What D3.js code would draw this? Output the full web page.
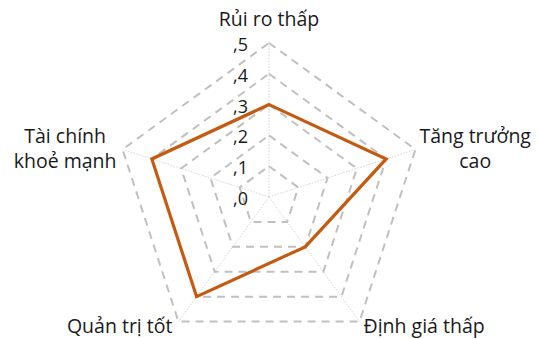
<!DOCTYPE html>
<html>
<head>
<meta charset="utf-8">
<script src="https://cdn.jsdelivr.net/npm/d3@7"></script>
<style>
  body { margin: 0; background: #fff; }
  text { font-family: "Open Sans", "Noto Sans", sans-serif; fill: #1a1a1a; }
</style>
</head>
<body>
<script>
const w = 540
const h = 339
const cx = 269
const cy = 197
const R = 154

const categories = [
  ['Rủi ro thấp'],
  ['Tăng trưởng', 'cao'],
  ['Định giá thấp'],
  ['Quản trị tốt'],
  ['Tài chính', 'khoẻ mạnh']
]
const values = [3, 4, 2, 4, 4]
const levels = [1, 2, 3, 4, 5]
const tickLabels = [',0', ',1', ',2', ',3', ',4', ',5']

const svg = d3.select('body')
              .append('svg')
              .attr('width', w)
              .attr('height', h)

const rScale = d3.scaleLinear()
                 .domain([0, 5])
                 .range([0, R])

const angle = d3.scalePoint()
                .domain(d3.range(categories.length + 1))
                .range([0, 2 * Math.PI])

const pt = (i, v) => {
  const a = angle(i)
  return [cx + rScale(v) * Math.sin(a), cy - rScale(v) * Math.cos(a)]
}

// spokes
svg.selectAll('line.spoke')
  .data(categories)
  .enter()
  .append('line')
  .attr('class', 'spoke')
  .attr('x1', cx)
  .attr('y1', cy)
  .attr('x2', (d, i) => pt(i, 5)[0])
  .attr('y2', (d, i) => pt(i, 5)[1])
  .attr('stroke', '#d4d4d4')
  .attr('stroke-width', 1)
  .attr('stroke-dasharray', '1.5,1.5')

// rings
svg.selectAll('path.ring')
  .data(levels)
  .enter()
  .append('path')
  .attr('class', 'ring')
  .attr('d', lv => d3.line()(categories.map((c, i) => pt(i, lv))) + 'Z')
  .attr('fill', 'none')
  .attr('stroke', '#c0c0c0')
  .attr('stroke-width', 2)
  .attr('stroke-dasharray', '8,6')

// data line
svg.append('path')
  .datum(values)
  .attr('d', d => d3.line()(d.map((v, i) => pt(i, v))) + 'Z')
  .attr('fill', 'none')
  .attr('stroke', '#c55a11')
  .attr('stroke-width', 3.2)
  .attr('stroke-linejoin', 'miter')

// tick labels
svg.selectAll('text.tick')
  .data(tickLabels)
  .enter()
  .append('text')
  .attr('class', 'tick')
  .attr('x', cx - 21)
  .attr('y', (d, i) => cy - rScale(i) + 8)
  .attr('text-anchor', 'end')
  .style('font-size', '18px')
  .text(d => d)

// category labels
const lh = 25
categories.forEach((lines, i) => {
  const [vx, vy] = pt(i, 5)
  const s = Math.sin(angle(i))
  const c = Math.cos(angle(i))
  const g = svg.append('text')
               .style('font-size', '19.5px')
               .attr('text-anchor', 'middle')
  lines.forEach((l, j) => {
    g.append('tspan').attr('x', 0).attr('y', j * lh).text(l)
  })
  let bw = 0
  g.selectAll('tspan').each(function() { bw = Math.max(bw, this.getComputedTextLength()) })
  let x = vx
  if (s > 0.1) x = vx + 4 + bw / 2
  if (s < -0.1) x = vx - 6 - bw / 2
  let y
  if (c > 0.9) y = vy - 17.5
  else if (c > 0) y = vy - (lines.length - 1) * lh / 2 + 6
  else y = vy + 11
  g.attr('transform', 'translate(' + x + ',' + y + ')')
})
</script>
</body>
</html>
